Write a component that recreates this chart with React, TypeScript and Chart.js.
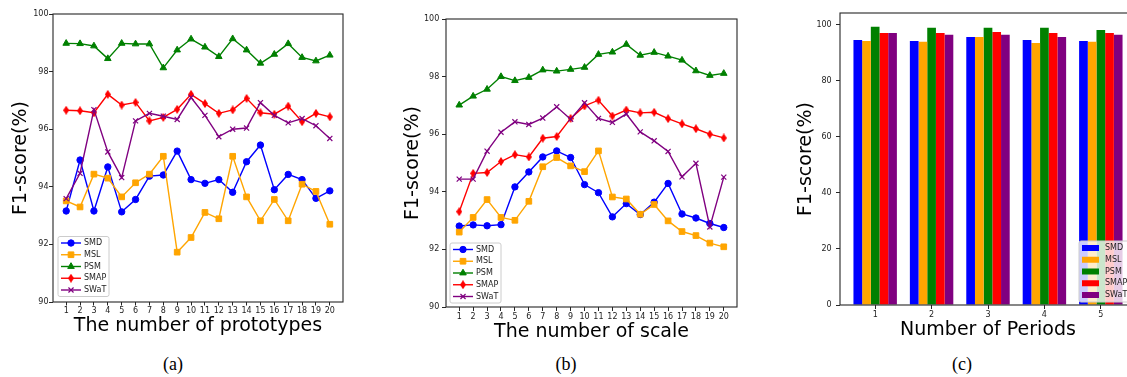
import React, { useEffect, useRef } from "react";
import { Chart, registerables } from "chart.js";
import { drawPoint } from "chart.js/helpers";

Chart.register(...registerables);
Chart.defaults.font.family = "'DejaVu Sans', sans-serif";

// ---------- data ----------
const seriesNames = ["SMD", "MSL", "PSM", "SMAP", "SWaT"];
const seriesColors = ["#0000ff", "#ffa500", "#008000", "#ff0000", "#800080"];

const protoX = [1, 2, 3, 4, 5, 6, 7, 8, 9, 10, 11, 12, 13, 14, 15, 16, 17, 18, 19, 20];
const protoSMD = [93.16, 94.93, 93.16, 94.69, 93.13, 93.56, 94.37, 94.41, 95.24, 94.25, 94.12, 94.25, 93.81, 94.87, 95.45, 93.9, 94.43, 94.25, 93.6, 93.86];
const protoMSL = [93.51, 93.3, 94.44, 94.3, 93.65, 94.14, 94.44, 95.06, 91.73, 92.24, 93.11, 92.89, 95.06, 93.65, 92.82, 93.56, 92.82, 94.09, 93.84, 92.7];
const protoPSM = [98.98, 98.97, 98.89, 98.45, 98.98, 98.96, 98.96, 98.13, 98.75, 99.13, 98.85, 98.52, 99.14, 98.75, 98.29, 98.6, 98.97, 98.49, 98.37, 98.57];
const protoSMAP = [96.66, 96.64, 96.57, 97.21, 96.84, 96.93, 96.29, 96.41, 96.69, 97.21, 96.89, 96.55, 96.67, 97.07, 96.57, 96.52, 96.8, 96.26, 96.55, 96.43];
const protoSWaT = [93.59, 94.47, 96.68, 95.21, 94.32, 96.29, 96.55, 96.45, 96.34, 97.1, 96.48, 95.74, 96.0, 96.04, 96.92, 96.48, 96.22, 96.37, 96.12, 95.68];

const scaleX = [1, 2, 3, 4, 5, 6, 7, 8, 9, 10, 11, 12, 13, 14, 15, 16, 17, 18, 19, 20];
const scaleSMD = [92.81, 92.85, 92.82, 92.86, 94.17, 94.69, 95.21, 95.42, 95.19, 94.25, 93.97, 93.13, 93.59, 93.21, 93.64, 94.29, 93.23, 93.09, 92.9, 92.76];
const scaleMSL = [92.6, 93.11, 93.73, 93.11, 93.01, 93.67, 94.87, 95.19, 94.9, 94.7, 95.42, 93.82, 93.75, 93.22, 93.56, 92.99, 92.62, 92.48, 92.22, 92.09];
const scalePSM = [97.01, 97.32, 97.56, 98.0, 97.86, 97.97, 98.23, 98.19, 98.25, 98.32, 98.77, 98.85, 99.12, 98.74, 98.84, 98.71, 98.57, 98.2, 98.04, 98.11];
const scaleSMAP = [93.31, 94.64, 94.67, 95.05, 95.29, 95.21, 95.86, 95.92, 96.55, 96.98, 97.18, 96.63, 96.84, 96.74, 96.76, 96.54, 96.36, 96.19, 96.0, 95.87];
const scaleSWaT = [94.44, 94.44, 95.41, 96.07, 96.43, 96.34, 96.56, 96.95, 96.52, 97.09, 96.55, 96.41, 96.7, 96.08, 95.77, 95.4, 94.52, 94.99, 92.78, 94.51];

const periods = [1, 2, 3, 4, 5];
const periodSMD = [94.6, 94.2, 95.6, 94.6, 94.2];
const periodMSL = [94.2, 93.9, 95.6, 93.5, 93.9];
const periodPSM = [99.3, 98.9, 98.9, 98.9, 98.1];
const periodSMAP = [97.1, 97.1, 97.4, 97.1, 97.1];
const periodSWaT = [97.1, 96.4, 96.4, 95.6, 96.4];

const lineYTicks = [90, 92, 94, 96, 98, 100];
const barYTicks = [0, 20, 40, 60, 80, 100];

// ---------- styling helpers ----------
const TEXT = "#222";
const AXIS = "#262626";

function makeThinDiamond(color: string) {
  const c = document.createElement("canvas");
  c.width = 6;
  c.height = 9;
  const g = c.getContext("2d")!;
  g.fillStyle = color;
  g.beginPath();
  g.moveTo(3, 0);
  g.lineTo(6, 4.5);
  g.lineTo(3, 9);
  g.lineTo(0, 4.5);
  g.closePath();
  g.fill();
  return c;
}

function markerStyles() {
  return [
    { style: "circle", radius: 3.2, bw: 1 },
    { style: "rect", radius: 4.0, bw: 1 },
    { style: "triangle", radius: 3.8, bw: 1 },
    { style: makeThinDiamond(seriesColors[3]), radius: 4, bw: 1 },
    { style: "crossRot", radius: 3.6, bw: 1.2 },
  ];
}

function framePlugin() {
  return {
    id: "frame",
    afterDatasetsDraw(chart: any) {
      const { ctx, chartArea: a } = chart;
      ctx.save();
      ctx.strokeStyle = AXIS;
      ctx.lineWidth = 1.1;
      ctx.strokeRect(a.left, a.top, a.right - a.left, a.bottom - a.top);
      ctx.restore();
    },
  };
}

type LegendGeom = {
  kind: "line" | "bar";
  anchor: "left" | "right";
  offX: number;
  offY: number;
  width: number;
  height: number;
  firstRow: number;
  rowGap: number;
};

function legendPlugin(geom: LegendGeom, markers: any[]) {
  return {
    id: "customLegend",
    afterDraw(chart: any) {
      const { ctx, chartArea: a } = chart;
      const x0 = geom.anchor === "right" ? a.right - geom.offX - geom.width : a.left + geom.offX;
      const y0 = a.bottom - geom.offY - geom.height;
      ctx.save();
      const r = 2;
      ctx.beginPath();
      ctx.moveTo(x0 + r, y0);
      ctx.lineTo(x0 + geom.width - r, y0);
      ctx.quadraticCurveTo(x0 + geom.width, y0, x0 + geom.width, y0 + r);
      ctx.lineTo(x0 + geom.width, y0 + geom.height - r);
      ctx.quadraticCurveTo(x0 + geom.width, y0 + geom.height, x0 + geom.width - r, y0 + geom.height);
      ctx.lineTo(x0 + r, y0 + geom.height);
      ctx.quadraticCurveTo(x0, y0 + geom.height, x0, y0 + geom.height - r);
      ctx.lineTo(x0, y0 + r);
      ctx.quadraticCurveTo(x0, y0, x0 + r, y0);
      ctx.closePath();
      ctx.fillStyle = "rgba(255,255,255,0.8)";
      ctx.fill();
      ctx.strokeStyle = "#cccccc";
      ctx.lineWidth = 1;
      ctx.stroke();
      seriesNames.forEach((name, i) => {
        const cy = y0 + geom.firstRow + i * geom.rowGap;
        const color = seriesColors[i];
        if (geom.kind === "line") {
          ctx.strokeStyle = color;
          ctx.lineWidth = 1.4;
          ctx.beginPath();
          ctx.moveTo(x0 + 3, cy);
          ctx.lineTo(x0 + 23, cy);
          ctx.stroke();
          const m = markers[i];
          ctx.fillStyle = color;
          ctx.strokeStyle = color;
          ctx.lineWidth = m.bw;
          drawPoint(ctx, { pointStyle: m.style, radius: m.radius, rotation: 0, borderWidth: m.bw } as any, x0 + 13, cy);
        } else {
          ctx.fillStyle = color;
          ctx.fillRect(x0 + 3, cy - 3, 17, 6);
        }
        ctx.fillStyle = TEXT;
        ctx.font = "8px 'DejaVu Sans'";
        ctx.textBaseline = "middle";
        ctx.textAlign = "left";
        ctx.fillText(name, x0 + 26, cy);
      });
      ctx.restore();
    },
  };
}

type PanelGeom = {
  top: number;
  right: number;
  yw: number;
  xh: number;
  yTitlePad: number;
  xTitlePad: number;
  yTickPad: number;
  xTickLen: number;
  xTickPad: number;
};

function axisCommon(geom: PanelGeom) {
  return {
    xGrid: { display: true, drawOnChartArea: false, drawTicks: true, tickLength: geom.xTickLen, tickColor: AXIS, tickWidth: 1 },
    yGrid: { display: true, drawOnChartArea: false, drawTicks: true, tickLength: 4, tickColor: AXIS, tickWidth: 1 },
  };
}

function lineConfig(xs: number[], series: number[][], xTitle: string, geom: PanelGeom, legend: LegendGeom) {
  const markers = markerStyles();
  const ac = axisCommon(geom);
  return {
    type: "line",
    data: {
      datasets: series.map((vals, i) => ({
        label: seriesNames[i],
        data: xs.map((x, j) => ({ x, y: vals[j] })),
        borderColor: seriesColors[i],
        backgroundColor: seriesColors[i],
        pointBackgroundColor: seriesColors[i],
        pointBorderColor: seriesColors[i],
        pointStyle: markers[i].style,
        pointRadius: markers[i].radius,
        pointBorderWidth: markers[i].bw,
        borderWidth: 1.4,
        tension: 0,
        order: 4 - i,
      })),
    },
    options: {
      responsive: false,
      maintainAspectRatio: false,
      animation: false,
      events: [],
      layout: { padding: { left: 0, top: geom.top, right: geom.right, bottom: 0 } },
      plugins: { legend: { display: false }, tooltip: { enabled: false } },
      scales: {
        x: {
          type: "linear",
          min: 0.05,
          max: 20.95,
          bounds: "data",
          afterFit: (s: any) => {
            s.height = geom.xh;
          },
          afterBuildTicks: (s: any) => {
            s.ticks = xs.map((v) => ({ value: v }));
          },
          grid: ac.xGrid,
          border: { display: false },
          ticks: { autoSkip: false, maxRotation: 0, minRotation: 0, padding: geom.xTickPad, font: { size: 8 }, color: TEXT },
          title: { display: true, text: xTitle, color: "#000", font: { size: 19 }, padding: { top: 0, bottom: geom.xTitlePad } },
        },
        y: {
          type: "linear",
          min: 90,
          max: 100,
          bounds: "data",
          afterFit: (s: any) => {
            s.width = geom.yw;
          },
          afterBuildTicks: (s: any) => {
            s.ticks = lineYTicks.map((v) => ({ value: v }));
          },
          grid: ac.yGrid,
          border: { display: false },
          ticks: { padding: geom.yTickPad, font: { size: 8 }, color: TEXT },
          title: { display: true, text: "F1-score(%)", color: "#000", font: { size: 19 }, padding: { top: geom.yTitlePad, bottom: 0 } },
        },
      },
    },
    plugins: [framePlugin(), legendPlugin(legend, markers)],
  };
}

function barConfig(geom: PanelGeom, legend: LegendGeom) {
  const series = [periodSMD, periodMSL, periodPSM, periodSMAP, periodSWaT];
  const ac = axisCommon(geom);
  return {
    type: "bar",
    data: {
      datasets: series.map((vals, i) => ({
        label: seriesNames[i],
        data: periods.map((x, j) => ({ x, y: vals[j] })),
        backgroundColor: seriesColors[i],
        borderWidth: 0,
        categoryPercentage: 0.77,
        barPercentage: 1.0,
      })),
    },
    options: {
      responsive: false,
      maintainAspectRatio: false,
      animation: false,
      events: [],
      layout: { padding: { left: 0, top: geom.top, right: geom.right, bottom: 0 } },
      plugins: { legend: { display: false }, tooltip: { enabled: false } },
      scales: {
        x: {
          type: "linear",
          min: 0.3765,
          max: 5.6235,
          bounds: "data",
          offset: false,
          afterFit: (s: any) => {
            s.height = geom.xh;
          },
          afterBuildTicks: (s: any) => {
            s.ticks = periods.map((v) => ({ value: v }));
          },
          grid: { ...ac.xGrid, offset: false },
          border: { display: false },
          ticks: { autoSkip: false, maxRotation: 0, minRotation: 0, padding: geom.xTickPad, font: { size: 8 }, color: TEXT },
          title: { display: true, text: "Number of Periods", color: "#000", font: { size: 19 }, padding: { top: 0, bottom: geom.xTitlePad } },
        },
        y: {
          type: "linear",
          min: 0,
          max: 104.2,
          bounds: "data",
          afterFit: (s: any) => {
            s.width = geom.yw;
          },
          afterBuildTicks: (s: any) => {
            s.ticks = barYTicks.map((v) => ({ value: v }));
          },
          grid: ac.yGrid,
          border: { display: false },
          ticks: { padding: geom.yTickPad, font: { size: 8 }, color: TEXT },
          title: { display: true, text: "F1-score(%)", color: "#000", font: { size: 19 }, padding: { top: geom.yTitlePad, bottom: 0 } },
        },
      },
    },
    plugins: [framePlugin(), legendPlugin(legend, [])],
  };
}

// ---------- components ----------
function ChartPanel(props: { left: number; width: number; height: number; make: () => any }) {
  const ref = useRef<HTMLCanvasElement | null>(null);
  useEffect(() => {
    if (!ref.current) return;
    const chart = new Chart(ref.current, props.make());
    return () => chart.destroy();
  }, []);
  return (
    <canvas
      ref={ref}
      width={props.width}
      height={props.height}
      style={{ position: "absolute", left: props.left, top: 0, width: props.width, height: props.height }}
    />
  );
}

const captionStyle = (cx: number): React.CSSProperties => ({
  position: "absolute",
  left: cx - 30,
  width: 60,
  top: 353,
  textAlign: "center",
  fontFamily: "'Liberation Serif', 'Times New Roman', serif",
  fontSize: 18,
  lineHeight: "22px",
  color: "#000",
});

export default function App() {
  const H = 350;
  return (
    <div style={{ position: "absolute", left: 0, top: 0, width: 1127, height: 377, overflow: "hidden", background: "#fff" }}>
      <ChartPanel
        left={0}
        width={370}
        height={H}
        make={() =>
          lineConfig(
            protoX,
            [protoSMD, protoMSL, protoPSM, protoSMAP, protoSWaT],
            "The number of prototypes",
            { top: 14, right: 27, yw: 53, xh: H - 302, yTitlePad: 9.6, xTitlePad: 12.6, yTickPad: 0.5, xTickLen: 3.5, xTickPad: 0.5 },
            { kind: "line", anchor: "left", offX: 5, offY: 5.5, width: 51, height: 60, firstRow: 6.5, rowGap: 11.75 }
          )
        }
      />
      <ChartPanel
        left={390}
        width={370}
        height={H}
        make={() =>
          lineConfig(
            scaleX,
            [scaleSMD, scaleMSL, scalePSM, scaleSMAP, scaleSWaT],
            "The number of scale",
            { top: 19, right: 23, yw: 56, xh: H - 307, yTitlePad: 11.6, xTitlePad: 6.6, yTickPad: 2.7, xTickLen: 4, xTickPad: 1.5 },
            { kind: "line", anchor: "left", offX: 4, offY: 4, width: 51, height: 60, firstRow: 6.5, rowGap: 11.75 }
          )
        }
      />
      <ChartPanel
        left={780}
        width={370}
        height={H}
        make={() =>
          barConfig(
            { top: 13, right: 14, yw: 60, xh: H - 305, yTitlePad: 15.1, xTitlePad: 8.6, yTickPad: 4.3, xTickLen: 4, xTickPad: 1.5 },
            { kind: "bar", anchor: "right", offX: 5, offY: 3, width: 52, height: 61, firstRow: 7, rowGap: 11.75 }
          )
        }
      />
      <div style={captionStyle(173)}>(a)</div>
      <div style={captionStyle(566)}>(b)</div>
      <div style={captionStyle(962)}>(c)</div>
    </div>
  );
}
